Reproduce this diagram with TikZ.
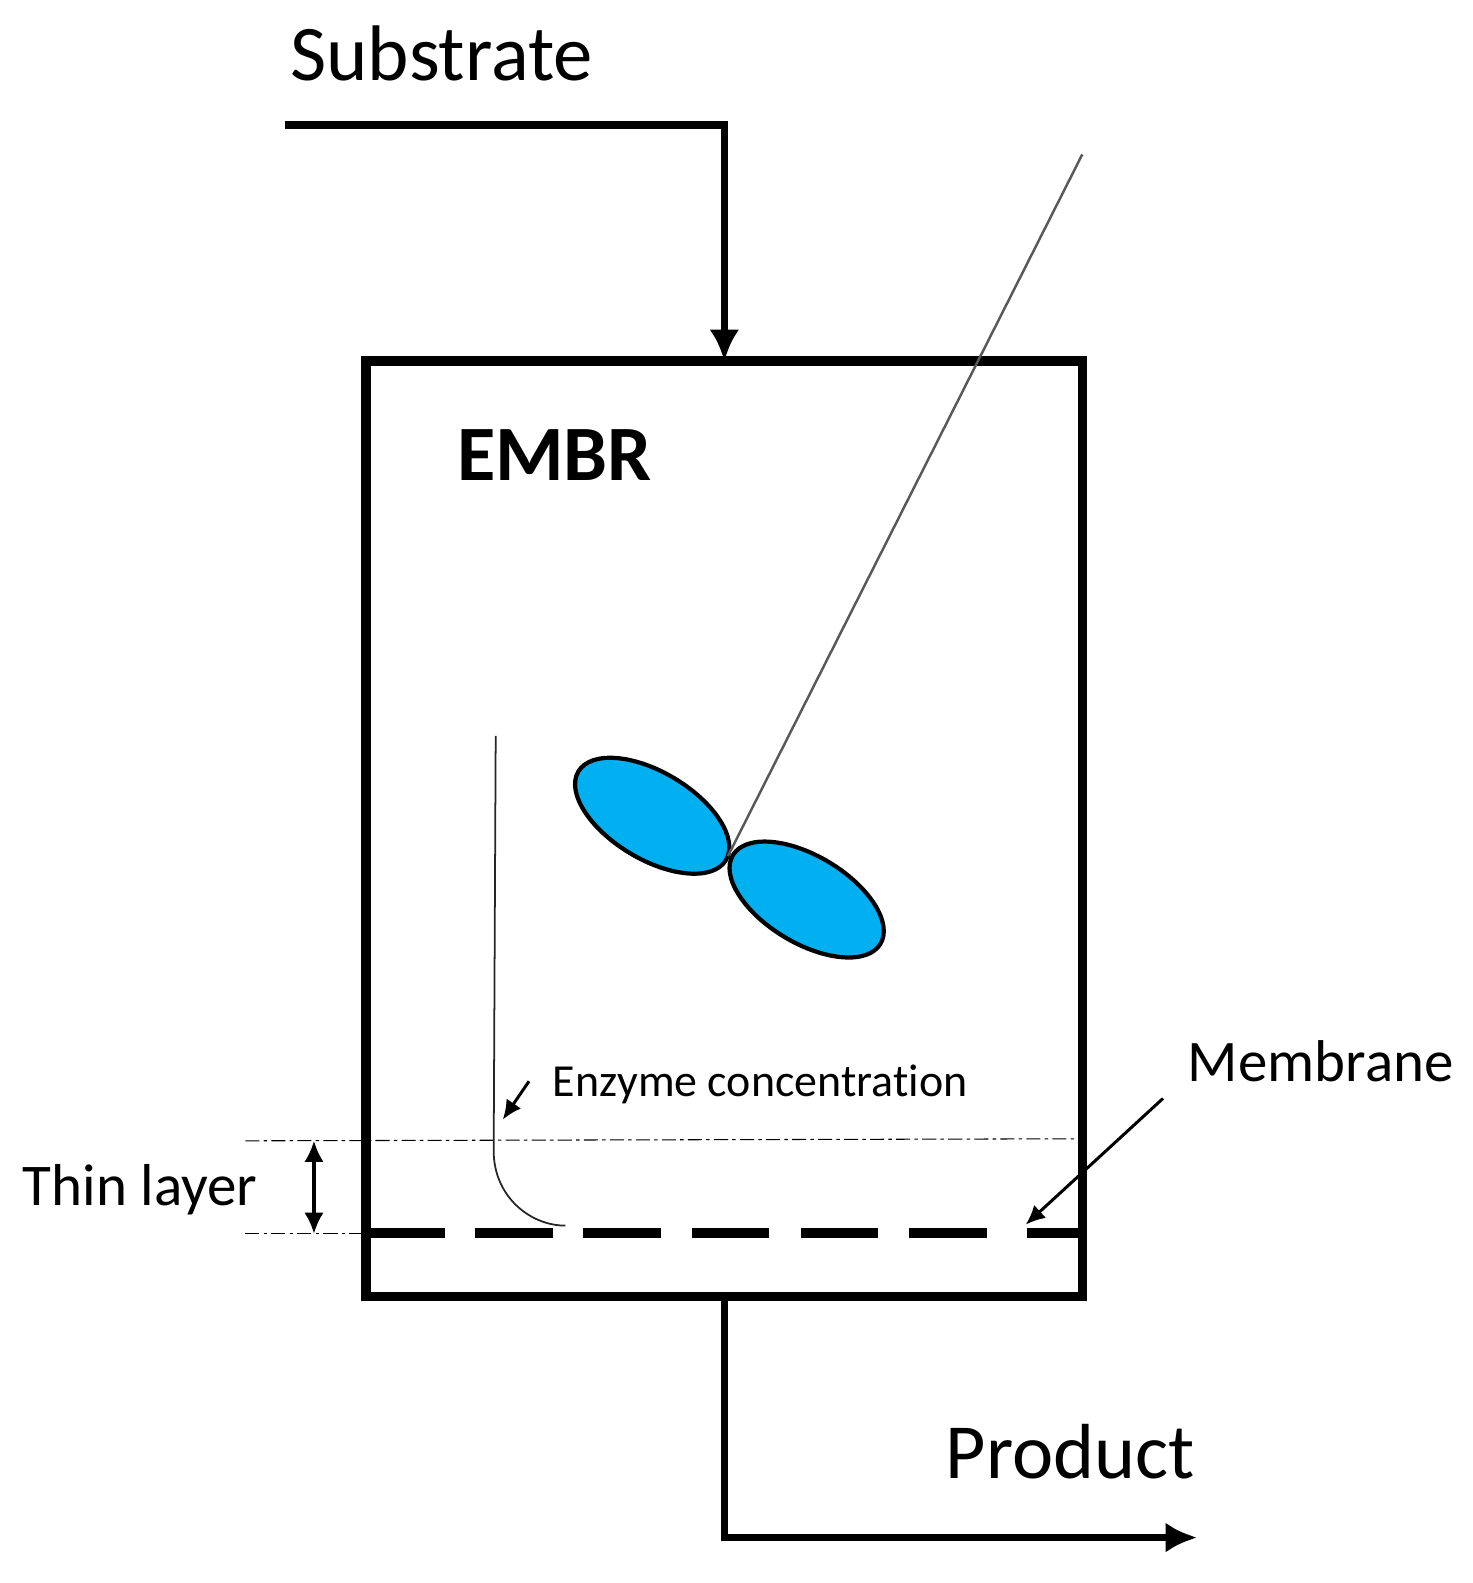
\documentclass[tikz,border=0pt]{standalone}
\usepackage{fontspec}
\setmainfont{Carlito}[Ligatures=NoCommon]
\usetikzlibrary{arrows.meta,shapes.geometric}
\definecolor{bladeblue}{HTML}{00B0F0}
\begin{document}
\begin{tikzpicture}[
    x=0.01009cm, y=-0.01009cm,
    arrow/.style={-{Latex[length=9pt,width=8.5pt]}, line width=2.2pt},
    thinarrow/.style={-{Latex[length=5.5pt,width=5pt]}, line width=0.85pt},
    blade/.style={ellipse, draw, line width=1.2pt, fill=bladeblue, minimum width=1.72cm, minimum height=0.87cm, inner sep=0pt},
    layerline/.style={line width=0.3pt, dash pattern=on 4pt off 1.2pt on 1pt off 1.2pt},
    label/.style={inner sep=0pt, anchor=base west}
]
\useasboundingbox (0,0) rectangle (1459,1568);

% Nodes
\node (box) [rectangle, draw, line width=2.8pt, outer sep=0pt, minimum width=7.154cm, minimum height=9.344cm, inner sep=0pt] at (717.5,821) {};
\node (substrate) [label, font=\fontsize{22.4}{25}\selectfont] at (287,80) {Substrate};
\node (product) [label, font=\fontsize{22.2}{25}\selectfont] at (936,1464) {Product};
\node (embr) [label, font=\fontsize{22.3}{25}\selectfont\bfseries] at (452,476) {EMBR};
\node (enzyme) [label, font=\fontsize{13.05}{16}\selectfont] at (547,1086) {Enzyme concentration};
\node (membrane) [label, font=\fontsize{16.75}{20}\selectfont] at (1176,1071) {Membrane};
\node (thin) [label, font=\fontsize{16.8}{20}\selectfont] at (22,1194) {Thin layer};
\node (bladeA) [blade, rotate=-31] at (646,808) {};
\node (bladeB) [blade, rotate=-31] at (799,891) {};

% Free ends
\coordinate (feed) at (282,124);
\coordinate (drain) at (1186,1523);
\coordinate (shafttop) at (1072,153);
\coordinate (hub) at (721,848);
\coordinate (layerL) at (243,1130);
\coordinate (layerR) at (1066,1128);
\coordinate (wallL) at (243,1222);
\coordinate (wallM) at (362,1222);
\coordinate (dimtop) at (311,1130);
\coordinate (dimbot) at (311,1222);
\coordinate (enztail) at (524,1071);
\coordinate (enzhead) at (498,1109);
\coordinate (memtail) at (1152,1088);
\coordinate (memhead) at (1016,1213);

% Stirrer shaft
\draw [line width=0.7pt, black!65] (shafttop) -- (hub);

% Flow arrows
\draw [arrow] (feed) -| (box.north);
\draw [arrow] (box.south) |- (drain);

% Membrane
\foreach \xa/\xb in {363/441, 470/548, 577/655, 685/762, 793/870, 900/978, 1017/1072}
    \draw [line width=2.8pt] (\xa,1221) -- (\xb,1221);

% Thin layer
\draw [layerline] (layerL) -- (layerR);
\draw [layerline] (wallL) -- (wallM);
\draw [{Latex[length=6pt,width=5.5pt]}-{Latex[length=6pt,width=5.5pt]}, line width=0.9pt] (dimtop) -- (dimbot);

% Concentration profile
\draw [line width=0.5pt, black!85] (491,729) -- (489,1140) .. controls (489,1185) and (525,1214) .. (560,1214);

% Labels arrows
\draw [thinarrow] (enztail) -- (enzhead);
\draw [thinarrow] (memtail) -- (memhead);

\end{tikzpicture}
\end{document}
